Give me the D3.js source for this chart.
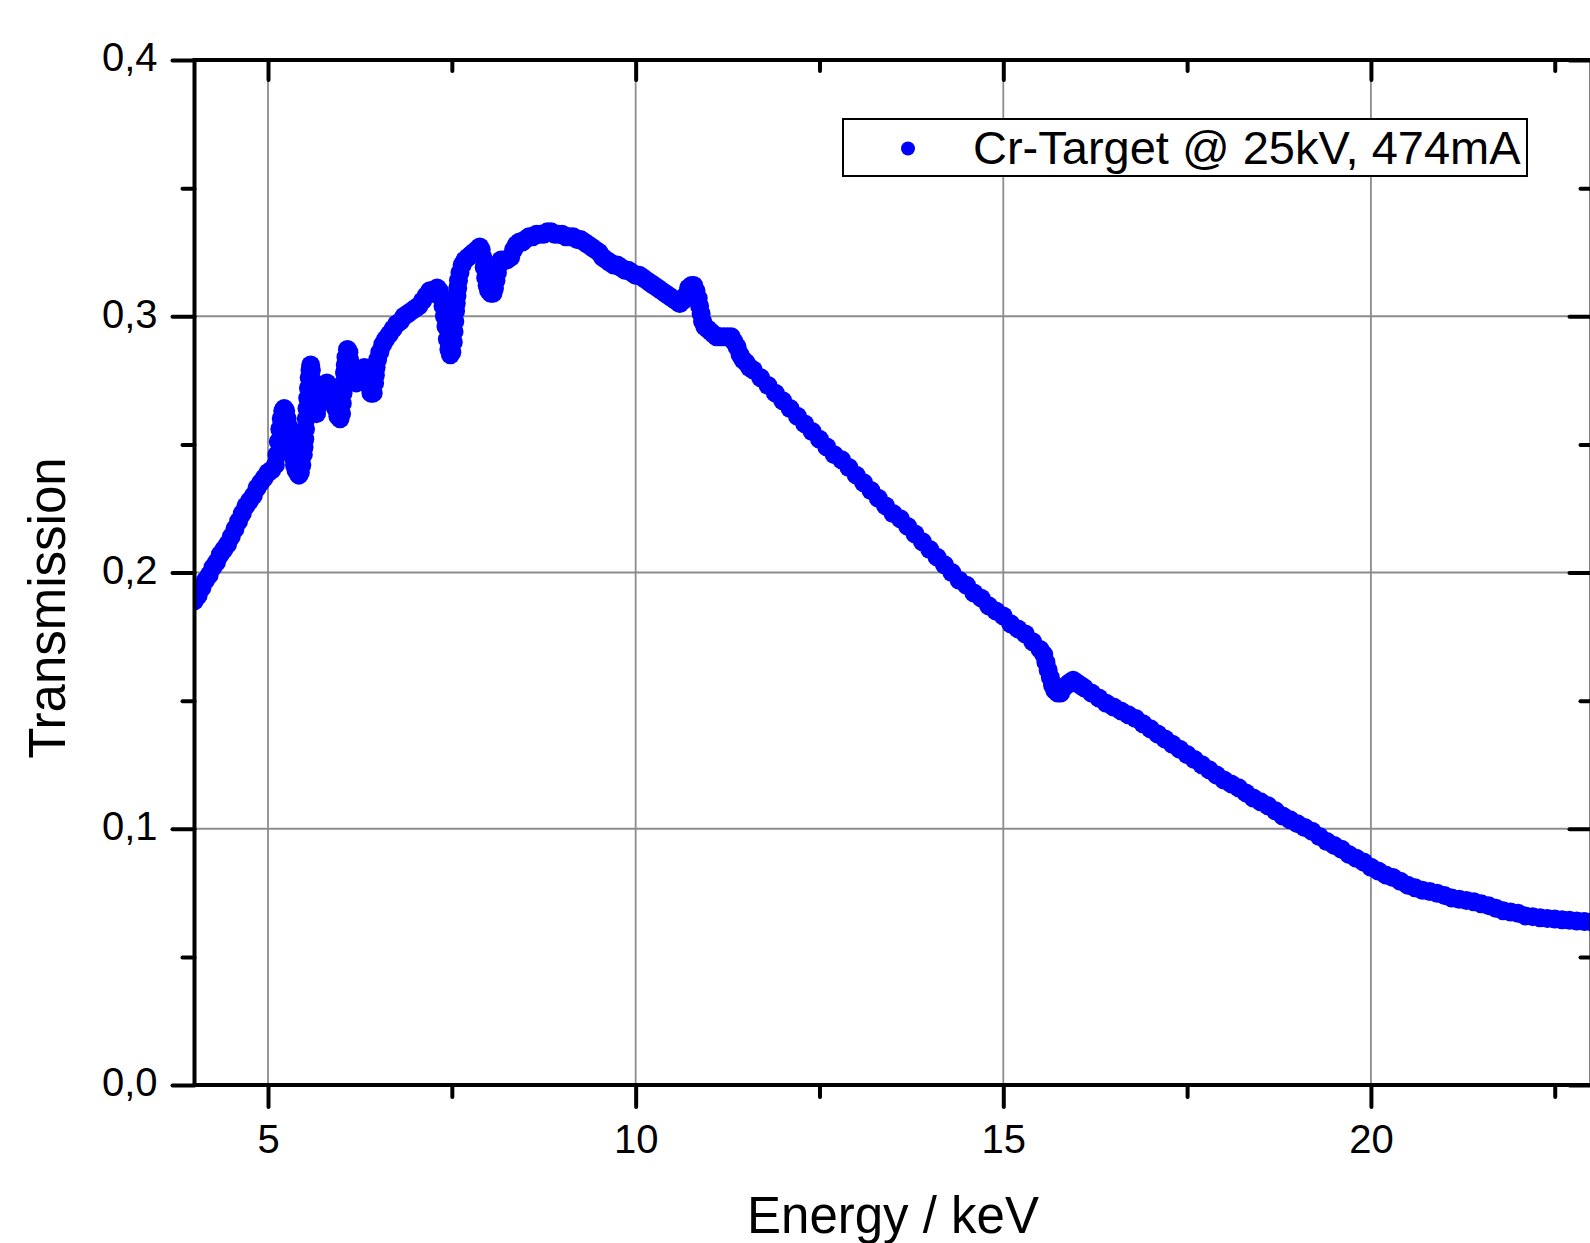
<!DOCTYPE html>
<html>
<head>
<meta charset="utf-8">
<script src="https://cdn.jsdelivr.net/npm/d3@7"></script>
<style>
  html, body { margin: 0; padding: 0; background: #fff; }
  svg { display: block; }
  text { font-family: "Liberation Sans", Arial, sans-serif; fill: #000; }
</style>
</head>
<body>
<div id="chart"></div>
<script>
// ---- Data ----
const seriesName = "Cr-Target @ 25kV, 474mA";
const xTitle = "Energy / keV";
const yTitle = "Transmission";
const xTickValues = [5, 10, 15, 20];
const xTickLabels = ["5", "10", "15", "20"];
const yTickValues = [0, 0.1, 0.2, 0.3, 0.4];
const yTickLabels = ["0,0", "0,1", "0,2", "0,3", "0,4"];

const energy = [
  4.00,4.05,4.10,4.15,4.20,4.25,4.30,4.35,4.40,4.45,4.50,4.55,4.60,4.65,4.70,4.75,4.80,4.85,4.90,4.95,5.00,5.05,
  5.10,5.12,5.14,5.16,5.18,5.20,5.22,5.24,5.26,5.28,5.30,5.32,5.34,5.36,5.38,5.40,5.42,5.44,5.46,5.48,5.49,5.50,
  5.51,5.52,5.53,5.54,5.55,5.56,5.57,5.58,5.59,5.60,5.61,5.62,5.64,5.66,5.68,5.71,5.74,5.77,5.80,5.83,5.86,5.89,
  5.92,5.95,5.98,6.00,6.01,6.02,6.03,6.04,6.05,6.06,6.08,6.10,6.11,6.12,6.14,6.17,6.20,6.24,6.28,6.31,6.34,6.37,
  6.40,6.43,6.45,6.46,6.47,6.49,6.52,6.56,6.60,6.65,6.70,6.75,6.80,6.85,6.90,6.95,7.00,7.05,7.10,7.15,7.20,7.25,
  7.30,7.33,7.36,7.38,7.40,7.42,7.44,7.46,7.48,7.50,7.52,7.53,7.54,7.55,7.56,7.57,7.58,7.59,7.61,7.64,7.68,7.72,
  7.76,7.80,7.84,7.88,7.90,7.92,7.94,7.96,7.98,8.00,8.03,8.06,8.08,8.10,8.12,8.14,8.17,8.21,8.25,8.30,8.34,8.38,
  8.42,8.46,8.50,8.55,8.60,8.65,8.70,8.75,8.80,8.85,8.90,8.95,9.00,9.05,9.10,9.15,9.20,9.25,9.30,9.35,9.40,9.45,
  9.50,9.55,9.60,9.65,9.70,9.75,9.80,9.85,9.90,9.95,10.00,10.05,10.10,10.15,10.20,10.25,10.30,10.35,10.40,10.45,
  10.50,10.55,10.60,10.64,10.68,10.72,10.76,10.79,10.82,10.85,10.87,10.89,10.91,10.94,10.98,11.02,11.06,11.10,
  11.15,11.20,11.25,11.30,11.34,11.38,11.42,11.46,11.50,11.55,11.60,11.70,11.80,11.90,12.00,12.10,12.20,12.30,
  12.40,12.50,12.60,12.70,12.80,12.90,13.00,13.10,13.20,13.30,13.40,13.50,13.60,13.70,13.80,13.90,14.00,14.10,
  14.20,14.30,14.40,14.50,14.60,14.70,14.80,14.90,15.00,15.10,15.20,15.30,15.40,15.50,15.55,15.58,15.61,15.64,
  15.67,15.70,15.74,15.78,15.82,15.86,15.90,15.95,16.00,16.05,16.10,16.20,16.30,16.40,16.50,16.60,16.70,16.80,
  16.90,17.00,17.10,17.20,17.30,17.40,17.50,17.60,17.70,17.80,17.90,18.00,18.10,18.20,18.30,18.40,18.50,18.60,
  18.70,18.80,18.90,19.00,19.10,19.20,19.30,19.40,19.50,19.60,19.70,19.80,19.90,20.00,20.10,20.20,20.30,20.40,
  20.50,20.60,20.70,20.80,20.90,21.00,21.10,21.20,21.30,21.40,21.50,21.60,21.70,21.80,21.90,22.00,22.10,22.20,
  22.30,22.40,22.50,22.60,22.70,22.80,22.90,23.00
];
const transmission = [
  0.189,0.191,0.194,0.197,0.199,0.202,0.204,0.207,0.209,0.211,0.214,0.217,0.220,0.223,0.226,0.228,0.230,0.233,0.235,0.237,0.239,0.240,
  0.242,0.246,0.251,0.256,0.260,0.263,0.264,0.263,0.260,0.257,0.253,0.249,0.245,0.242,0.240,0.239,0.238,0.239,0.242,0.246,0.249,0.252,
  0.256,0.260,0.264,0.268,0.272,0.276,0.279,0.281,0.279,0.275,0.271,0.267,0.263,0.262,0.265,0.268,0.271,0.273,0.274,0.273,0.270,0.267,
  0.264,0.261,0.260,0.262,0.266,0.270,0.274,0.278,0.281,0.284,0.287,0.286,0.283,0.280,0.277,0.275,0.274,0.276,0.279,0.280,0.277,0.273,
  0.270,0.270,0.274,0.277,0.280,0.283,0.286,0.289,0.291,0.293,0.295,0.297,0.298,0.300,0.301,0.302,0.303,0.304,0.306,0.308,0.310,0.310,
  0.311,0.310,0.307,0.304,0.300,0.296,0.291,0.287,0.285,0.286,0.290,0.294,0.298,0.302,0.305,0.308,0.311,0.314,0.317,0.320,0.322,0.323,
  0.324,0.325,0.326,0.327,0.326,0.323,0.319,0.315,0.312,0.310,0.309,0.309,0.311,0.314,0.317,0.320,0.322,0.322,0.322,0.323,0.326,0.328,
  0.329,0.329,0.330,0.331,0.331,0.332,0.332,0.332,0.333,0.333,0.332,0.332,0.332,0.331,0.331,0.331,0.330,0.330,0.329,0.328,0.327,0.326,
  0.325,0.323,0.322,0.321,0.320,0.320,0.319,0.318,0.318,0.317,0.316,0.316,0.315,0.314,0.313,0.312,0.311,0.310,0.309,0.308,
  0.307,0.306,0.305,0.306,0.308,0.311,0.312,0.312,0.310,0.307,0.304,0.301,0.298,0.296,0.295,0.294,0.293,0.292,
  0.292,0.292,0.292,0.292,0.290,0.288,0.285,0.283,0.282,0.280,0.279,0.276,0.273,0.270,0.267,0.264,0.261,0.258,
  0.255,0.252,0.249,0.246,0.244,0.241,0.238,0.235,0.232,0.229,0.226,0.223,0.221,0.218,0.215,0.212,0.209,0.206,
  0.203,0.200,0.197,0.195,0.192,0.190,0.187,0.185,0.183,0.180,0.178,0.176,0.173,0.170,0.168,0.165,0.162,0.159,
  0.156,0.154,0.153,0.153,0.155,0.156,0.157,0.158,0.157,0.156,0.155,0.153,0.151,0.149,0.1475,0.146,0.1445,0.143,
  0.141,0.139,0.137,0.135,0.133,0.131,0.129,0.127,0.125,0.123,0.121,0.119,0.1175,0.116,0.114,0.112,0.1105,0.109,
  0.107,0.105,0.1035,0.102,0.1005,0.099,0.097,0.095,0.0935,0.092,0.090,0.0885,0.087,0.085,0.0835,0.082,0.081,0.0795,
  0.078,0.077,0.076,0.0755,0.0748,0.074,0.073,0.0725,0.072,0.0715,0.0707,0.070,0.069,0.068,0.0675,0.067,0.066,0.0657,
  0.0653,0.065,0.0648,0.0645,0.0643,0.064,0.0638,0.0637
];

// ---- Layout ----
const W = 1590, H = 1243;
const plot = { left: 194.5, right: 1591.5, top: 60, bottom: 1085 };
const blue = "#0000ff";

const svg = d3.select("#chart").append("svg")
  .attr("width", W).attr("height", H);

const x = d3.scaleLinear().domain([4, 23]).range([plot.left, plot.right]);
const y = d3.scaleLinear().domain([0, 0.4]).range([plot.bottom, plot.top]);

// clip
svg.append("defs").append("clipPath").attr("id", "plotclip")
  .append("rect")
  .attr("x", plot.left).attr("y", plot.top)
  .attr("width", plot.right - plot.left).attr("height", plot.bottom - plot.top);

// grid
const grid = svg.append("g").attr("stroke", "#8c8c8c").attr("stroke-width", 1.8);
grid.selectAll("line.vx").data(xTickValues).join("line")
  .attr("x1", d => x(d)).attr("x2", d => x(d))
  .attr("y1", plot.top).attr("y2", plot.bottom);
grid.selectAll("line.hy").data(yTickValues.filter(v => v > 0 && v < 0.4)).join("line")
  .attr("x1", plot.left).attr("x2", plot.right)
  .attr("y1", d => y(d)).attr("y2", d => y(d));

// data points
const pts = energy.map((e, i) => ({ e, t: transmission[i] }));
svg.append("g").attr("clip-path", "url(#plotclip)")
  .selectAll("circle").data(pts).join("circle")
  .attr("cx", d => x(d.e)).attr("cy", d => y(d.t))
  .attr("r", 9.5).attr("fill", blue);

// axes with d3 axis generators
const majorLen = 22, minorLen = 12;
const xMinor = [7.5, 12.5, 17.5, 22.5];
const yMinor = [0.05, 0.15, 0.25, 0.35];

function styleAxis(g) {
  g.select(".domain").remove();
  g.selectAll(".tick line").attr("stroke", "#000").attr("stroke-width", 4).attr("stroke-linecap", "round");
}

// bottom (outward)
const gB = svg.append("g").attr("transform", `translate(0,${plot.bottom})`)
  .call(d3.axisBottom(x).tickValues(xTickValues).tickFormat((d, i) => xTickLabels[i])
        .tickSize(majorLen).tickPadding(10));
styleAxis(gB);
gB.selectAll(".tick text").attr("font-size", 40).attr("dy", null).attr("y", 68);
svg.append("g").attr("transform", `translate(0,${plot.bottom})`)
  .call(d3.axisBottom(x).tickValues(xMinor).tickFormat("").tickSize(minorLen)).call(styleAxis);

// top (inward)
svg.append("g").attr("transform", `translate(0,${plot.top})`)
  .call(d3.axisTop(x).tickValues(xTickValues).tickFormat("").tickSize(-20)).call(styleAxis);
svg.append("g").attr("transform", `translate(0,${plot.top})`)
  .call(d3.axisTop(x).tickValues(xMinor).tickFormat("").tickSize(-11)).call(styleAxis);

// left (outward)
const gL = svg.append("g").attr("transform", `translate(${plot.left},0)`)
  .call(d3.axisLeft(y).tickValues(yTickValues).tickFormat((d, i) => yTickLabels[i])
        .tickSize(majorLen).tickPadding(16));
styleAxis(gL);
gL.selectAll(".tick text").attr("font-size", 40).attr("dy", "0.27em").attr("x", -37);
svg.append("g").attr("transform", `translate(${plot.left},0)`)
  .call(d3.axisLeft(y).tickValues(yMinor).tickFormat("").tickSize(minorLen)).call(styleAxis);

// right (inward)
svg.append("g").attr("transform", `translate(${plot.right},0)`)
  .call(d3.axisRight(y).tickValues(yTickValues).tickFormat("").tickSize(-22)).call(styleAxis);
svg.append("g").attr("transform", `translate(${plot.right},0)`)
  .call(d3.axisRight(y).tickValues(yMinor).tickFormat("").tickSize(-11)).call(styleAxis);

// frame
svg.append("rect")
  .attr("x", plot.left).attr("y", plot.top)
  .attr("width", plot.right - plot.left).attr("height", plot.bottom - plot.top)
  .attr("fill", "none").attr("stroke", "#000").attr("stroke-width", 4);

// axis titles
svg.append("text")
  .attr("x", (plot.left + plot.right) / 2).attr("y", 1233)
  .attr("text-anchor", "middle").attr("font-size", 51)
  .text(xTitle);
svg.append("text")
  .attr("transform", "translate(65,608) rotate(-90)")
  .attr("text-anchor", "middle").attr("font-size", 51)
  .text(yTitle);

// legend
const lg = svg.append("g");
lg.append("rect")
  .attr("x", 843).attr("y", 119).attr("width", 684).attr("height", 57)
  .attr("fill", "#fff").attr("stroke", "#000").attr("stroke-width", 2);
lg.append("circle").attr("cx", 908).attr("cy", 148.5).attr("r", 7).attr("fill", blue);
lg.append("text").attr("x", 973).attr("y", 164).attr("font-size", 47).text(seriesName);
</script>
</body>
</html>
